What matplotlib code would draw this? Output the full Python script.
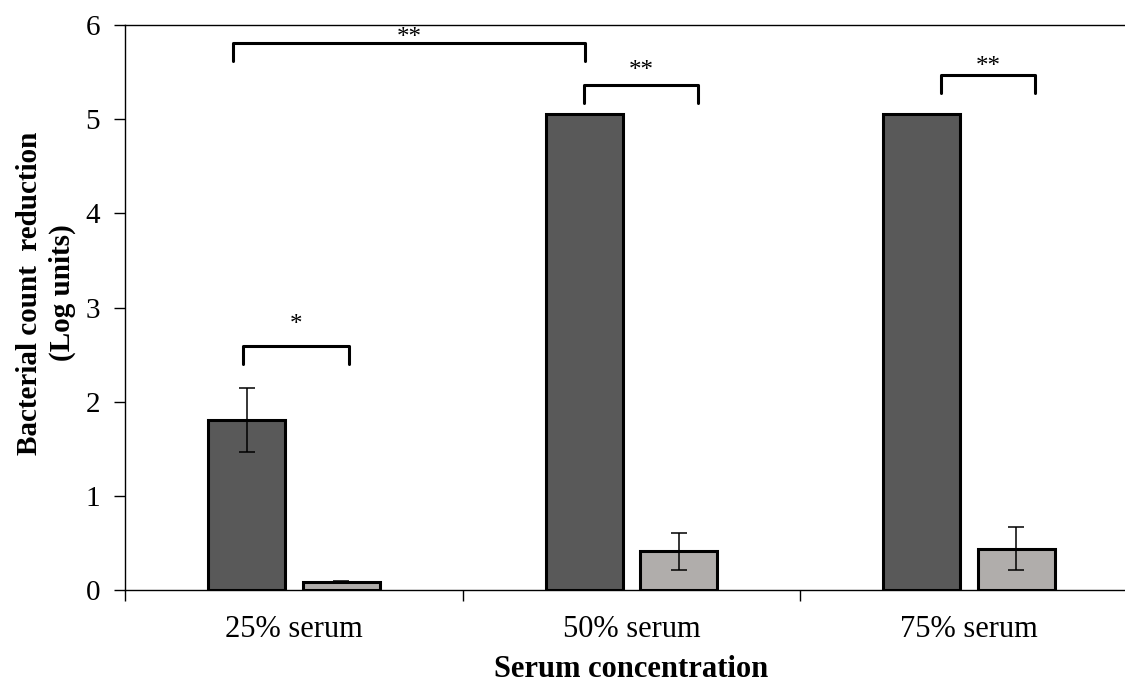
import matplotlib.pyplot as plt
import numpy as np

plt.rcParams['font.family'] = ['Liberation Serif', 'DejaVu Serif']

categories = ['25% serum', '50% serum', '75% serum']
dark_vals = [1.81, 5.05, 5.05]
dark_err = [0.34, 0.0, 0.0]
light_vals = [0.09, 0.41, 0.44]
light_err = [0.01, 0.20, 0.23]

# significance brackets: (x start, x end, top level, star height, label)
brackets = [
    (-0.150, 0.164, 2.59, 2.85, '*'),
    (-0.180, 0.863, 5.81, 5.89, '**'),
    (0.860, 1.198, 5.36, 5.54, '**'),
    (1.918, 2.196, 5.47, 5.59, '**'),
]

fig = plt.figure(figsize=(11.25, 6.82), dpi=100)
ax = fig.add_axes([125 / 1125, 92 / 682, 1013 / 1125, 565 / 682])

x = np.arange(len(categories))
w = 0.228
off = 0.14
ax.bar(x - off, dark_vals, w, color='#595959', edgecolor='black', linewidth=2.2, zorder=2)
ax.bar(x + off, light_vals, w, color='#b0adab', edgecolor='black', linewidth=2.2, zorder=2)
ax.errorbar(x - off, dark_vals, yerr=dark_err, fmt='none', ecolor='black',
            elinewidth=1.1, capsize=6, capthick=1.1, zorder=3)
ax.errorbar(x + off, light_vals, yerr=light_err, fmt='none', ecolor='black',
            elinewidth=1.1, capsize=6, capthick=1.1, zorder=3)

for x0, x1, top, star_y, lab in brackets:
    drop = 0.19
    ax.plot([x0, x0, x1, x1], [top - drop, top, top, top - drop], color='black',
            lw=2.2, solid_joinstyle='round', solid_capstyle='round', clip_on=False)
    ax.text((x0 + x1) / 2, star_y - 0.15, lab, ha='center', va='bottom', fontsize=18)

ax.set_xlim(-0.5, 2.5)
ax.set_ylim(0, 6)
ax.set_yticks(range(7))
ax.set_xticks([-0.5, 0.5, 1.5, 2.5])
ax.set_xticklabels([])
ax.set_xticks(x, minor=True)
ax.set_xticklabels(categories, minor=True)
ax.tick_params(axis='x', which='minor', length=0, labelsize=22, pad=18)
ax.tick_params(axis='x', which='major', length=8, width=1, direction='out')
ax.tick_params(axis='y', length=8, width=1, direction='out', labelsize=21, pad=10)

ax.spines['right'].set_visible(False)
for s in ['left', 'bottom', 'top']:
    ax.spines[s].set_linewidth(1)

fig.text(46 / 1125, 1 - 293 / 682, 'Bacterial count  reduction\n(Log units)', rotation=90,
         ha='center', va='center', multialignment='center', fontsize=21,
         fontweight='bold', linespacing=1.25)
ax.set_xlabel('Serum concentration', fontsize=22, fontweight='bold', labelpad=8)

fig.savefig('out.png', dpi=100)
